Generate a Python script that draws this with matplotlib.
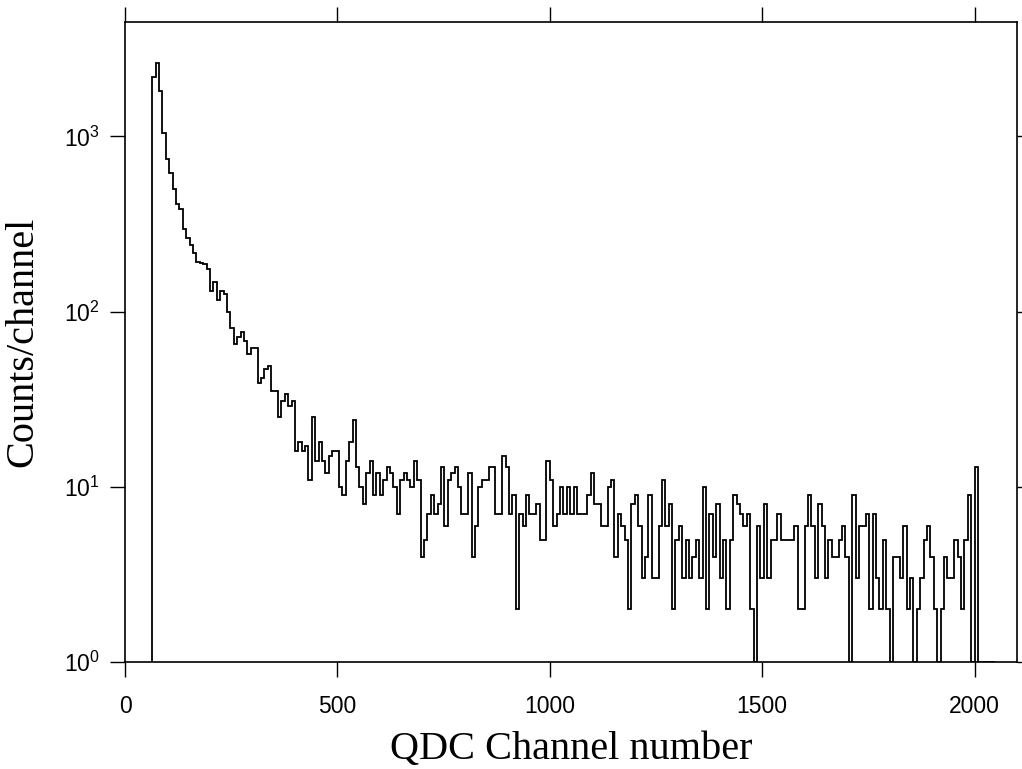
import matplotlib
matplotlib.use('Agg')
import matplotlib.pyplot as plt
import numpy as np

plt.rcParams['mathtext.fontset'] = 'custom'
plt.rcParams['mathtext.rm'] = 'Liberation Sans'
plt.rcParams['mathtext.it'] = 'Liberation Sans:italic'
plt.rcParams['mathtext.bf'] = 'Liberation Sans:bold'

# QDC spectrum, 8-channel bins starting at channel 64
bin_width = 8
first_channel = 64
counts = [
    2180, 2640, 1815, 1040, 748, 620, 498, 412, 383, 298,
    264, 239, 216, 192, 190, 187, 175, 132, 147, 117,
    131, 126, 100, 81, 65, 72, 77, 68, 57, 62,
    62, 39, 42, 47, 49, 35, 35, 25, 31, 34,
    29, 31, 16, 18, 16, 17, 11, 25, 14, 18,
    14, 12, 15, 16, 16, 10, 9, 14, 18, 24,
    13, 10, 8, 12, 14, 9, 12, 9, 11, 13,
    12, 10, 7, 11, 12, 11, 10, 14, 11, 4,
    5, 7, 9, 7, 8, 13, 6, 11, 12, 13,
    10, 7, 7, 12, 4, 6, 10, 11, 11, 13,
    13, 7, 7, 15, 13, 7, 9, 2, 7, 6,
    9, 7, 7, 8, 5, 5, 14, 11, 6, 7,
    10, 7, 10, 7, 10, 7, 7, 7, 9, 12,
    8, 8, 6, 6, 10, 11, 4, 7, 6, 5,
    2, 8, 9, 6, 3, 4, 9, 3, 3, 6,
    11, 6, 8, 2, 5, 6, 3, 5, 3, 4,
    5, 3, 10, 2, 7, 4, 8, 3, 5, 2,
    5, 9, 8, 7, 6, 7, 2, 1, 6, 3,
    8, 3, 5, 5, 7, 5, 5, 5, 5, 6,
    2, 2, 6, 9, 6, 3, 8, 6, 3, 5,
    4, 4, 5, 6, 4, 1, 9, 3, 6, 6,
    7, 2, 7, 3, 2, 5, 2, 1, 4, 4,
    3, 6, 2, 3, 1, 2, 3, 5, 6, 4,
    2, 1, 2, 4, 3, 3, 5, 4, 2, 5,
    9, 1, 13, 1, 1, 1, 1, 1,
]
edges = first_channel + bin_width * np.arange(len(counts) + 1)

x_ticks = [0, 500, 1000, 1500, 2000]
y_ticks = [1, 10, 100, 1000]

fig = plt.figure(figsize=(10.22, 7.69), dpi=100)
ax = fig.add_axes([125 / 1022, 1 - 662 / 769, (1017 - 125) / 1022, (662 - 22) / 769])

ax.stairs(counts, edges, baseline=1, color='black', linewidth=1.3)

ax.set_yscale('log')
ax.set_xlim(0, 2100)
ax.set_ylim(1, 4500)
ax.set_xticks(x_ticks)
ax.set_yticks(y_ticks)
ax.minorticks_off()

ax.tick_params(direction='out', length=11, width=1, top=True, right=True,
               labeltop=False, labelright=False, labelsize=16.5)
ax.tick_params(axis='x', pad=13)
ax.tick_params(axis='y', pad=7)
for lab in ax.get_xticklabels() + ax.get_yticklabels():
    lab.set_fontfamily('Liberation Sans')
for s in ax.spines.values():
    s.set_linewidth(1.2)

ax.set_xlabel('QDC Channel number', fontfamily='Liberation Serif', fontsize=29, labelpad=9)
ax.set_ylabel('Counts/channel', fontfamily='Liberation Serif', fontsize=29, labelpad=16)

fig.savefig('out.png', dpi=100)
